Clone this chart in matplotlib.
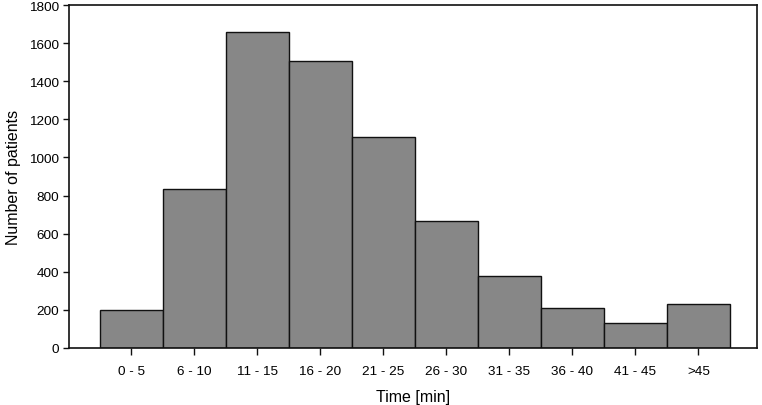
import matplotlib
matplotlib.use("Agg")
import matplotlib.pyplot as plt

plt.rcParams["font.family"] = ["Liberation Sans", "DejaVu Sans"]

# Patients per time interval
categories = ["0 - 5", "6 - 10", "11 - 15", "16 - 20", "21 - 25",
              "26 - 30", "31 - 35", "36 - 40", "41 - 45", ">45"]
patients = [200, 833, 1657, 1507, 1107, 668, 379, 208, 131, 229]

fig = plt.figure(figsize=(7.62, 4.06), dpi=100)
ax = fig.add_axes([0.0906, 0.1404, 0.9028, 0.8448])

positions = list(range(len(categories)))
ax.bar(positions, patients, width=1.0, color="#878787",
       edgecolor="#111111", linewidth=1.0)

ax.set_xlim(-0.99, 9.93)
ax.set_ylim(0, 1800)
ax.set_yticks(range(0, 1801, 200))
ax.set_xticks(positions)
ax.set_xticklabels(categories)

ax.tick_params(axis="both", direction="out", labelsize=9.7, width=1.0, color="#111111")
ax.tick_params(axis="y", length=4, pad=3)
ax.tick_params(axis="x", length=5, pad=7)
for sp in ax.spines.values():
    sp.set_linewidth(1.2)
    sp.set_color("#111111")

ax.set_ylabel("Number of patients", fontsize=11.5, labelpad=6)
ax.set_xlabel("Time [min]", fontsize=11.5, labelpad=9)

fig.savefig("out.png", dpi=100)
